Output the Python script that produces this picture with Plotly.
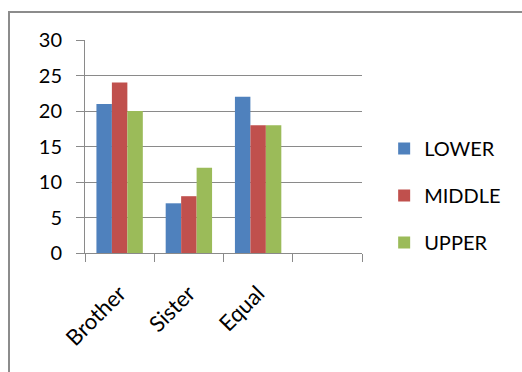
import plotly.graph_objects as go

categories = ["Brother", "Sister", "Equal", " "]
series_names = ["LOWER", "MIDDLE", "UPPER"]
lower = [21, 7, 22, None]
middle = [24, 8, 18, None]
upper = [20, 12, 18, None]
colors = ["#4F81BD", "#C0504D", "#9BBB59"]
y_ticks = [0, 5, 10, 15, 20, 25, 30]

fig = go.Figure()
for i, (name, vals) in enumerate(zip(series_names, [lower, middle, upper])):
    fig.add_trace(go.Bar(x=categories, y=vals, name=name, marker_color=colors[i],
                         marker_line_width=0, legendgroup=name))

font_family = "Lato, 'Open Sans', sans-serif"
fig.update_layout(
    width=522, height=372,
    margin=dict(l=85, r=160, t=40, b=119),
    paper_bgcolor="white", plot_bgcolor="white",
    barmode="group", bargap=0.33, bargroupgap=0,
    font=dict(family=font_family, size=20, color="#000000"),
    legend=dict(x=1.08, y=0.27, xanchor="left", yanchor="middle",
                font=dict(size=20), tracegroupgap=18, itemwidth=30),
    showlegend=True,
)
fig.update_xaxes(
    type="category", categoryorder="array", categoryarray=categories,
    range=[-0.5, 3.5], tickson="boundaries", ticks="outside", ticklen=8,
    tickcolor="#8a8a8a", showline=True, linecolor="#8a8a8a", linewidth=1,
    tickangle=-45, showgrid=False, tickfont=dict(size=22), ticklabelstandoff=18,
)
fig.update_yaxes(
    range=[0, 30], tickvals=y_ticks, ticks="outside", ticklen=8,
    tickcolor="#8a8a8a", showline=True, linecolor="#8a8a8a", linewidth=1,
    showgrid=True, gridcolor="#8a8a8a", gridwidth=1, zeroline=False,
    tickfont=dict(size=20), ticklabelstandoff=10,
)
# outer chart border (partially cropped in the reference)
fig.add_shape(type="rect", xref="paper", yref="paper",
              x0=(9 - 85) / 277, x1=2.0, y0=-1.0, y1=(253 - 12) / 213,
              line=dict(color="#8c8c8c", width=2), fillcolor="rgba(0,0,0,0)", layer="below")

fig.write_html("out.html")
